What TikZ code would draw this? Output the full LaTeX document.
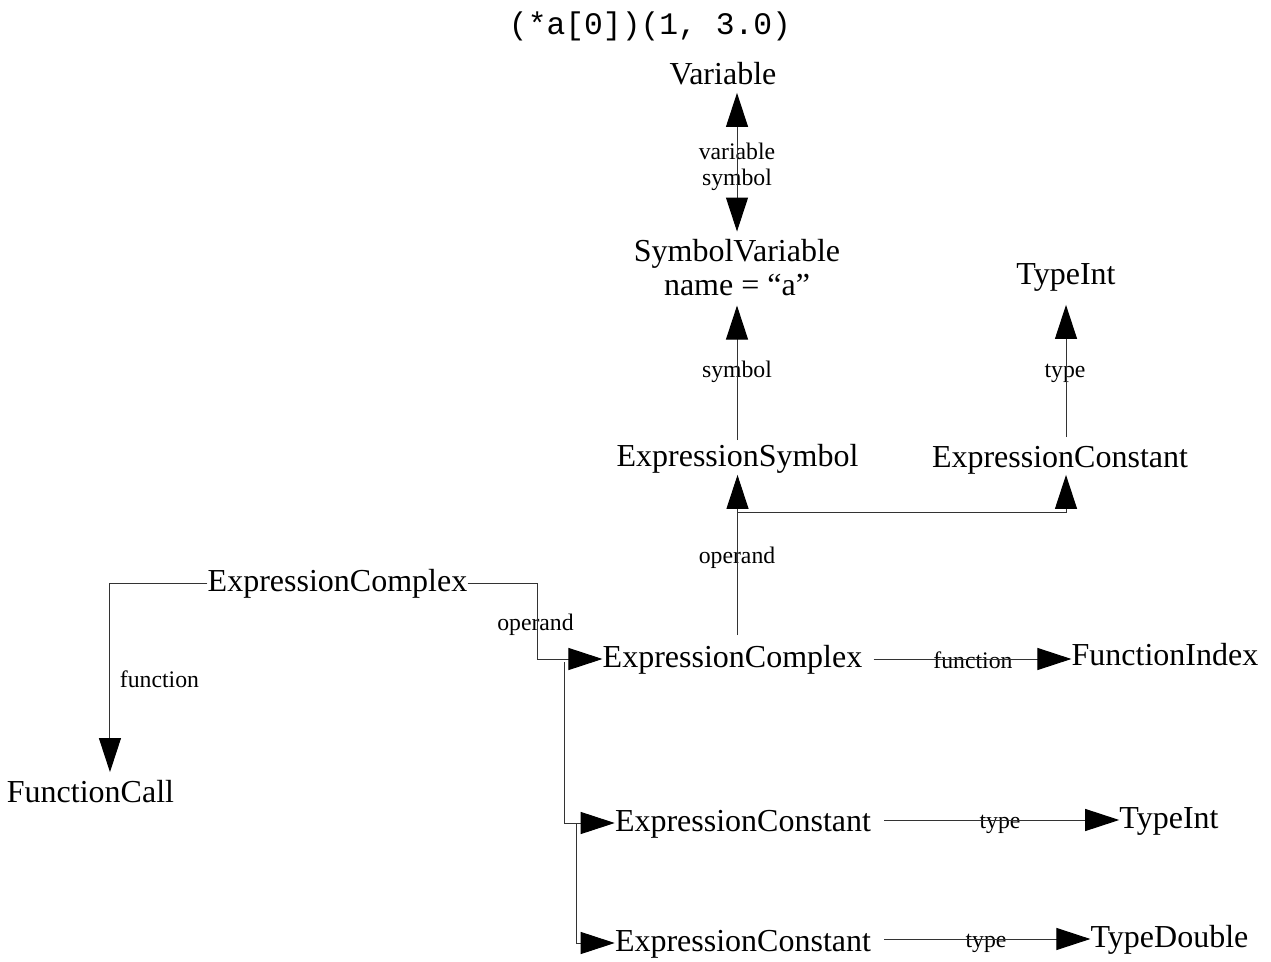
\documentclass[tikz,border=0pt]{standalone}
\usepackage{fontspec}
\setmainfont{Liberation Serif}
\setmonofont{Liberation Mono}
\usetikzlibrary{arrows.meta,calc}
\begin{document}
\begin{tikzpicture}[x=0.75pt,y=-0.75pt,
  cls/.style={font=\fontsize{24}{25.5}\selectfont, inner sep=0pt, anchor=base, text height=17pt, text depth=5pt},
  lbl/.style={font=\fontsize{17.8}{19.5}\selectfont, inner sep=0pt, anchor=base},
  conn/.style={draw=black!80, line width=0.75pt},
  tip/.style={-{Triangle[length=25.5pt,width=16.5pt,color=black]}},
  tips/.style={{Triangle[length=25.5pt,width=16.5pt,color=black]}-{Triangle[length=25.5pt,width=16.5pt,color=black]}}
]
\useasboundingbox (0,0) rectangle (1271,962);

\node[anchor=base, inner sep=0pt, font=\ttfamily\fontsize{23.5}{28}\selectfont] (title) at (650,35) {(*a[0])(1, 3.0)};

\node[cls] (var) at (723,85) {Variable};
\node[font=\fontsize{24}{25.5}\selectfont, inner sep=0pt, anchor=base, align=center] (sv) at (737,296) {SymbolVariable\\name = “a”};
\node[cls] (ti1) at (1066,285) {TypeInt};
\node[cls] (es) at (737.5,466) {ExpressionSymbol};
\node[cls] (ec1) at (1060,467) {ExpressionConstant};
\node[cls] (ex1) at (337.5,591) {ExpressionComplex};
\node[cls] (ex2) at (732.5,667) {ExpressionComplex};
\node[cls] (fi) at (1165,665) {FunctionIndex};
\node[cls] (fc) at (90.5,802) {FunctionCall};
\node[cls] (c2) at (743,831) {ExpressionConstant};
\node[cls] (ti2) at (1169,828) {TypeInt};
\node[cls] (c3) at (743,951) {ExpressionConstant};
\node[cls] (td) at (1169.5,947) {TypeDouble};

% labels
\node[lbl, align=center] (lvs) at (737,186) {variable\\symbol};
\node[lbl] (lsym) at (737,378) {symbol};
\node[lbl] (ltype1) at (1065,378) {type};
\node[lbl] (lop1) at (737,563) {operand};
\node[lbl] (lop2) at (535.5,630) {operand};
\node[lbl] (lfn1) at (159.5,687) {function};
\node[lbl] (lfn2) at (973,668) {function};
\node[lbl] (ltype2) at (1000,828) {type};
\node[lbl] (ltype3) at (986,947) {type};

% connectors
\draw[conn,tips] ([yshift=-0.75pt]sv.north |- var.south) -- ([yshift=6pt]sv.north);
\draw[conn,tip] ([yshift=2.25pt]sv.south |- es.north) -- ([yshift=-6.75pt]sv.south);
\draw[conn,tip] ([yshift=5.25pt]ti1.south |- ec1.north) -- ([yshift=-9.75pt]ti1.south);
\draw[conn,tip] ([yshift=6.75pt]es.south |- ex2.north) -- ([yshift=-1.5pt]es.south);
\coordinate (br) at ($(es.south)+(0,40)$);
\draw[conn,tip] (br) -| ([yshift=-0.75pt]ti1.south |- ec1.south);
\draw[conn,tip] (ex1.west) -| ([xshift=14.6pt,yshift=5.25pt]fc.north);
\draw[conn,tip] (ex1.east) -- ++(70,0) |- (ex2.west);
\coordinate (j1) at ($(ex2.west)+(-38,3)$);
\draw[conn,tip] (j1) |- (c2.west);
\coordinate (j2) at ($(c2.west)+(-38,0)$);
\draw[conn,tip] (j2) |- (c3.west);
\draw[conn,tip] ([xshift=8.25pt]ex2.east) -- (ex2.east -| fi.west);
\draw[conn,tip] ([xshift=9.75pt]c2.east |- ti2.west) -- (ti2.west);
\draw[conn,tip] ([xshift=9.75pt]c3.east |- td.west) -- (td.west);
\end{tikzpicture}
\end{document}
